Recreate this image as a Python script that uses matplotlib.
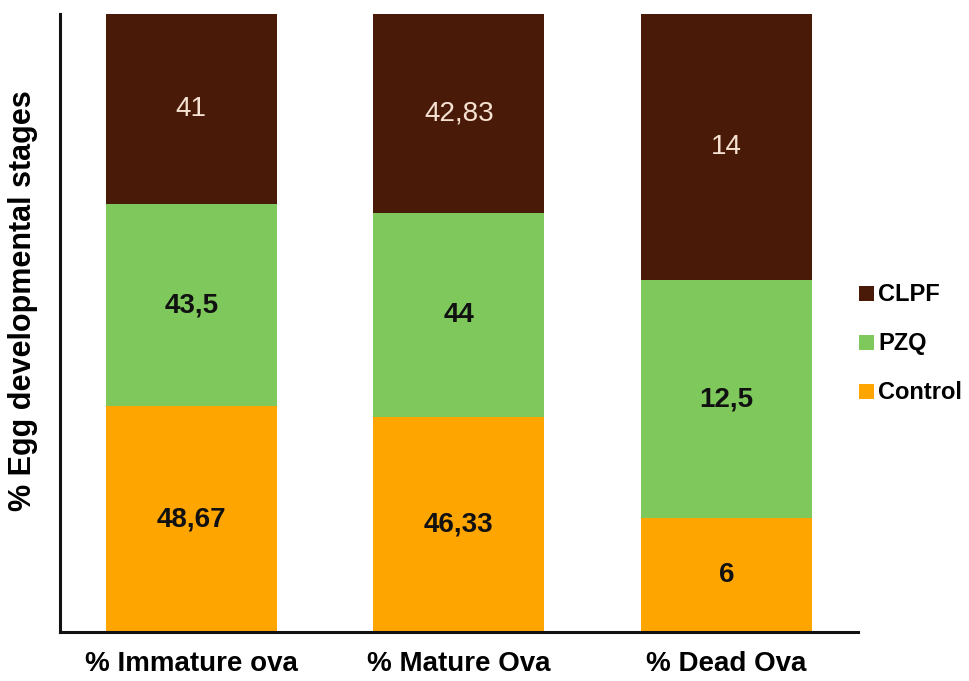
import matplotlib
matplotlib.use("Agg")
import matplotlib.pyplot as plt
from matplotlib.patches import Patch

categories = ["% Immature ova", "% Mature Ova", "% Dead Ova"]
series = ["Control", "PZQ", "CLPF"]
control = [48.67, 46.33, 6]
pzq = [43.5, 44, 12.5]
clpf = [41, 42.83, 14]
labels_control = ["48,67", "46,33", "6"]
labels_pzq = ["43,5", "44", "12,5"]
labels_clpf = ["41", "42,83", "14"]

colors = {"Control": "#ffa500", "PZQ": "#7ec85c", "CLPF": "#4a1a08"}
text_colors = {"Control": "#111111", "PZQ": "#111111", "CLPF": "#f6e2d2"}
weights = {"Control": "bold", "PZQ": "bold", "CLPF": "normal"}

plt.rcParams["font.family"] = ["Liberation Sans", "DejaVu Sans"]

fig = plt.figure(figsize=(9.69, 6.81), dpi=100)
ax = fig.add_axes([0.062, 0.072, 0.823, 0.907])

values = {"Control": control, "PZQ": pzq, "CLPF": clpf}
labels = {"Control": labels_control, "PZQ": labels_pzq, "CLPF": labels_clpf}
totals = [c + p + f for c, p, f in zip(control, pzq, clpf)]
x = list(range(len(categories)))
bottom = [0.0] * len(categories)
for s in series:
    pct = [v / t * 100 for v, t in zip(values[s], totals)]
    bars = ax.bar(x, pct, width=0.64, bottom=bottom, color=colors[s], zorder=2)
    for i, b in enumerate(bars):
        cy = bottom[i] + pct[i] / 2
        ax.text(b.get_x() + b.get_width() / 2, cy, labels[s][i],
                ha="center", va="center", fontsize=20,
                fontweight=weights[s], color=text_colors[s], zorder=3)
    bottom = [b0 + p for b0, p in zip(bottom, pct)]

ax.set_xlim(-0.49, 2.49)
ax.set_ylim(0, 100)
ax.set_xticks(x)
ax.set_xticklabels(categories, fontsize=20, fontweight="bold")
ax.tick_params(axis="x", length=0, pad=14)
ax.set_yticks([])
for sp in ["top", "right"]:
    ax.spines[sp].set_visible(False)
for sp in ["left", "bottom"]:
    ax.spines[sp].set_linewidth(2.2)
    ax.spines[sp].set_color("#111111")
    ax.spines[sp].set_zorder(4)
ax.set_ylabel("% Egg developmental stages", fontsize=22, fontweight="bold")
ax.yaxis.set_label_coords(-0.028, 0.537)

handles = [Patch(facecolor=colors[s], label=s) for s in reversed(series)]
leg = fig.legend(handles=handles, loc="center left", bbox_to_anchor=(0.865, 0.495),
                 frameon=False, prop={"size": 17, "weight": "bold"},
                 handlelength=0.6, handleheight=0.6, handletextpad=0.2,
                 labelspacing=1.1)

fig.savefig("out.png", dpi=100)
